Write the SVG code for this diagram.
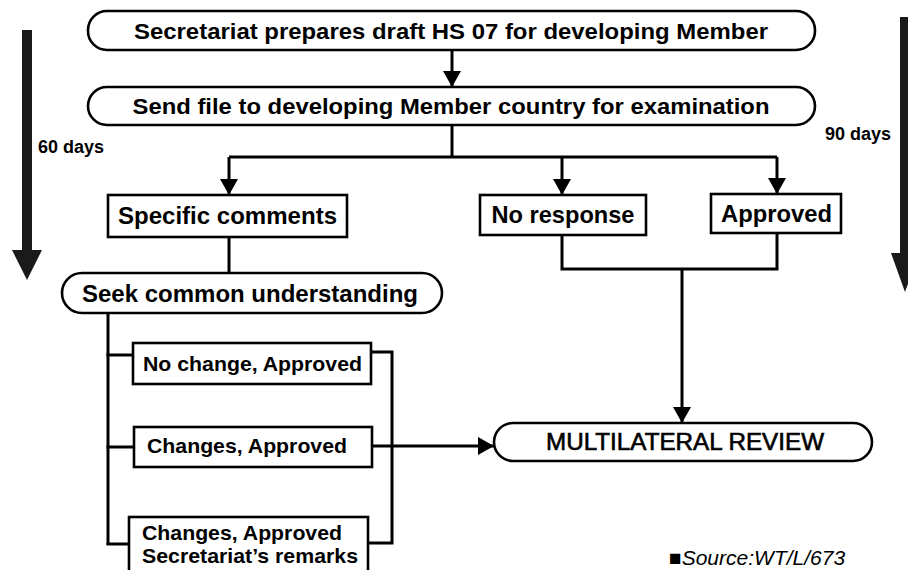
<svg xmlns="http://www.w3.org/2000/svg" width="908" height="570" viewBox="0 0 908 570">
<defs>
<style>
.box{fill:#fff;stroke:#000;stroke-width:2.6}
.ln{fill:none;stroke:#000;stroke-width:3}
.t{font-family:"Liberation Sans",Arial,sans-serif;font-weight:bold;fill:#000}
.big{fill:#1a1a1a}
</style>
<marker id="ah" markerUnits="userSpaceOnUse" markerWidth="16" markerHeight="18" viewBox="0 0 16 18" refX="16" refY="9" orient="auto">
<path d="M0,0 L16,9 L0,18 Z" fill="#000"/>
</marker>
</defs>
<rect width="908" height="570" fill="#fff"/>
<g id="timeline-60">
<path class="big" d="M22,30 H32 V250 H42 L27,280 L12,250 H22 Z"/>
<text class="t" x="38" y="153" font-size="18">60 days</text>
</g>
<g id="timeline-90">
<path class="big" d="M900,17 H910 V253 H919 L905,292 L891,253 H900 Z"/>
<text class="t" x="825" y="140" font-size="18">90 days</text>
</g>
<g id="connectors">
<line class="ln" x1="452" y1="50" x2="452" y2="87" marker-end="url(#ah)"/>
<polyline class="ln" points="452,125 452,157"/>
<polyline class="ln" points="229,157 777,157"/>
<line class="ln" x1="229" y1="157" x2="229" y2="195" marker-end="url(#ah)"/>
<line class="ln" x1="562" y1="157" x2="562" y2="195" marker-end="url(#ah)"/>
<line class="ln" x1="777" y1="157" x2="777" y2="194" marker-end="url(#ah)"/>
<line class="ln" x1="229" y1="237" x2="229" y2="273"/>
<polyline class="ln" points="562,235 562,269 777,269 777,233"/>
<line class="ln" x1="682" y1="269" x2="682" y2="423" marker-end="url(#ah)"/>
<line class="ln" x1="108" y1="313" x2="108" y2="545"/>
<line class="ln" x1="106.5" y1="355" x2="133" y2="355"/>
<line class="ln" x1="106.5" y1="447" x2="134" y2="447"/>
<line class="ln" x1="106.5" y1="544" x2="129" y2="544"/>
<polyline class="ln" points="371,352 392,352 392,543 368,543"/>
<line class="ln" x1="372" y1="446" x2="494" y2="446" marker-end="url(#ah)"/>
</g>
<g id="n-draft">
<rect class="box" x="88" y="11" width="727" height="39" rx="19"/>
<text class="t" x="451" y="39" font-size="22" text-anchor="middle" textLength="634" lengthAdjust="spacingAndGlyphs">Secretariat prepares draft HS 07 for developing Member</text>
</g>
<g id="n-send">
<rect class="box" x="88" y="87" width="727" height="38" rx="19"/>
<text class="t" x="451" y="114" font-size="22" text-anchor="middle" textLength="637" lengthAdjust="spacingAndGlyphs">Send file to developing Member country for examination</text>
</g>
<g id="n-specific">
<rect class="box" x="108" y="195" width="239" height="42"/>
<text class="t" x="227.5" y="224" font-size="24" text-anchor="middle" textLength="219" lengthAdjust="spacingAndGlyphs">Specific comments</text>
</g>
<g id="n-noresponse">
<rect class="box" x="480" y="195" width="166" height="40"/>
<text class="t" x="563" y="223" font-size="24" text-anchor="middle" textLength="143" lengthAdjust="spacingAndGlyphs">No response</text>
</g>
<g id="n-approved">
<rect class="box" x="711" y="194" width="130" height="39"/>
<text class="t" x="776.5" y="222" font-size="24" text-anchor="middle" textLength="111" lengthAdjust="spacingAndGlyphs">Approved</text>
</g>
<g id="n-seek">
<rect class="box" x="62" y="273" width="380" height="40" rx="20"/>
<text class="t" x="250" y="301.5" font-size="24" text-anchor="middle" textLength="336" lengthAdjust="spacingAndGlyphs">Seek common understanding</text>
</g>
<g id="n-nochange">
<rect class="box" x="133" y="343" width="238" height="41"/>
<text class="t" x="143" y="371" font-size="21" textLength="219" lengthAdjust="spacingAndGlyphs">No change, Approved</text>
</g>
<g id="n-changes">
<rect class="box" x="134" y="427" width="238" height="40"/>
<text class="t" x="147" y="453" font-size="21" textLength="200" lengthAdjust="spacingAndGlyphs">Changes, Approved</text>
</g>
<g id="n-remarks">
<rect class="box" x="129" y="517" width="239" height="60"/>
<text class="t" x="142" y="540" font-size="21" textLength="200" lengthAdjust="spacingAndGlyphs">Changes, Approved</text>
<text class="t" x="142" y="563" font-size="21" textLength="216" lengthAdjust="spacingAndGlyphs">Secretariat’s remarks</text>
</g>
<g id="n-review">
<rect class="box" x="494" y="423" width="378" height="38" rx="19"/>
<text x="685" y="450" font-family="Liberation Sans,Arial,sans-serif" font-size="23" stroke="#000" stroke-width="0.6" text-anchor="middle" textLength="278" lengthAdjust="spacingAndGlyphs">MULTILATERAL REVIEW</text>
</g>
<g id="source">
<text x="669" y="565" font-family="Liberation Sans,Arial,sans-serif" font-size="21" font-style="italic">■Source:WT/L/673</text>
</g>
</svg>
